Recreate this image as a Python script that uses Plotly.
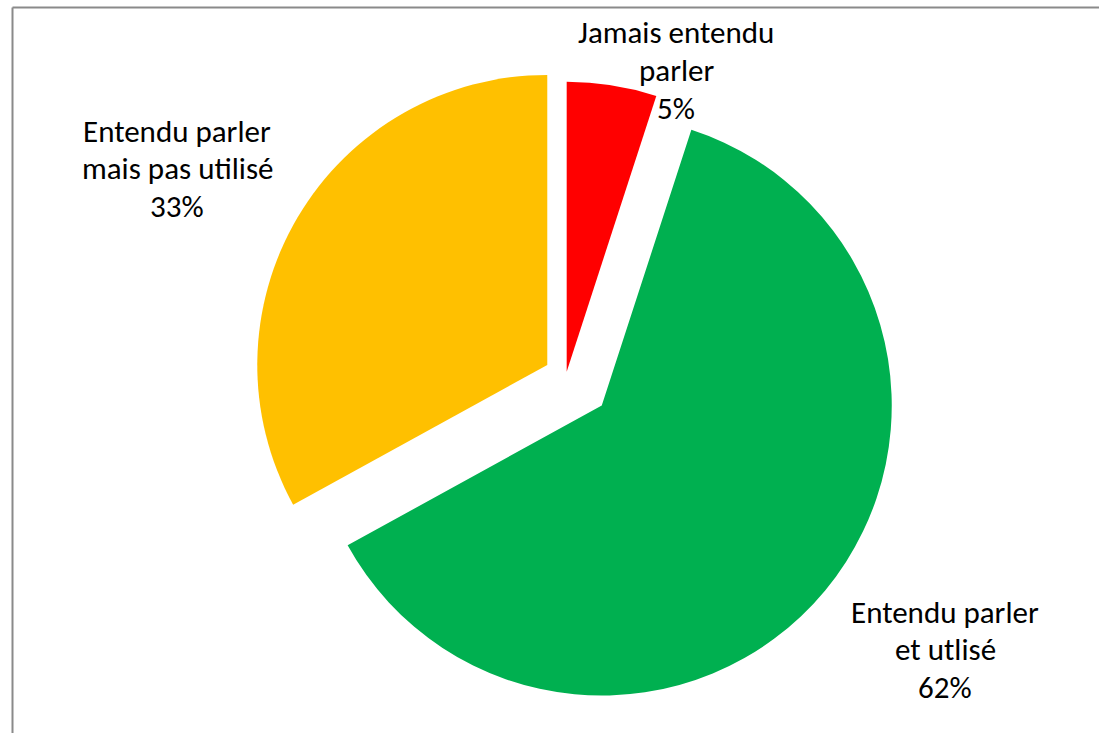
import plotly.graph_objects as go

W, H = 1099, 733

# Data
categories = ["Jamais entendu parler", "Entendu parler et utlisé", "Entendu parler mais pas utilisé"]
label_lines = [["Jamais entendu", "parler"], ["Entendu parler", "et utlisé"], ["Entendu parler", "mais pas utilisé"]]
values = [5, 62, 33]
colors = ["#FF0000", "#00B050", "#FFC000"]
pulls = [0.015, 0.16, 0.075]

# layout geometry (pixels)
cx, cy, r = 566, 376, 290
half = r * (1 + max(pulls))
dom_x = [(cx - half) / W, (cx + half) / W]
dom_y = [1 - (cy + half) / H, 1 - (cy - half) / H]

total = sum(values)

fig = go.Figure(go.Pie(
    labels=categories,
    values=values,
    marker=dict(colors=colors, line=dict(width=0)),
    pull=pulls,
    sort=False,
    direction="clockwise",
    rotation=0,
    textinfo="none",
    hoverinfo="label+percent",
    domain=dict(x=dom_x, y=dom_y),
    showlegend=False,
))

# label block centres (pixels) and line spacing
label_pos = [(676, 70), (945, 649), (177, 168)]
line_gap = 37.5
font = dict(family="Carlito, Lato, 'Open Sans', sans-serif", size=31, color="#000000")
for lines, v, (px, py) in zip(label_lines, values, label_pos):
    all_lines = lines + [f"{round(100 * v / total)}%"]
    n = len(all_lines)
    for i, t in enumerate(all_lines):
        ly = py + (i - (n - 1) / 2) * line_gap
        fig.add_annotation(
            x=px / W, y=1 - ly / H, xref="paper", yref="paper",
            text=t, showarrow=False, xanchor="center", yanchor="middle",
            font=font, align="center",
        )

# chart frame (left and top edges visible)
fig.add_shape(type="line", xref="paper", yref="paper",
              x0=12.5 / W, x1=12.5 / W, y0=-0.05, y1=1 - 7.5 / H,
              line=dict(color="#8a8a8a", width=2))
fig.add_shape(type="line", xref="paper", yref="paper",
              x0=12.5 / W, x1=1.05, y0=1 - 7.5 / H, y1=1 - 7.5 / H,
              line=dict(color="#8a8a8a", width=2))

fig.update_layout(
    width=W, height=H,
    margin=dict(l=0, r=0, t=0, b=0),
    paper_bgcolor="white",
    plot_bgcolor="white",
)

fig.write_html("out.html",
               config={"displayModeBar": False},
               post_script="document.body.style.margin='0';document.body.style.overflow='hidden';")
